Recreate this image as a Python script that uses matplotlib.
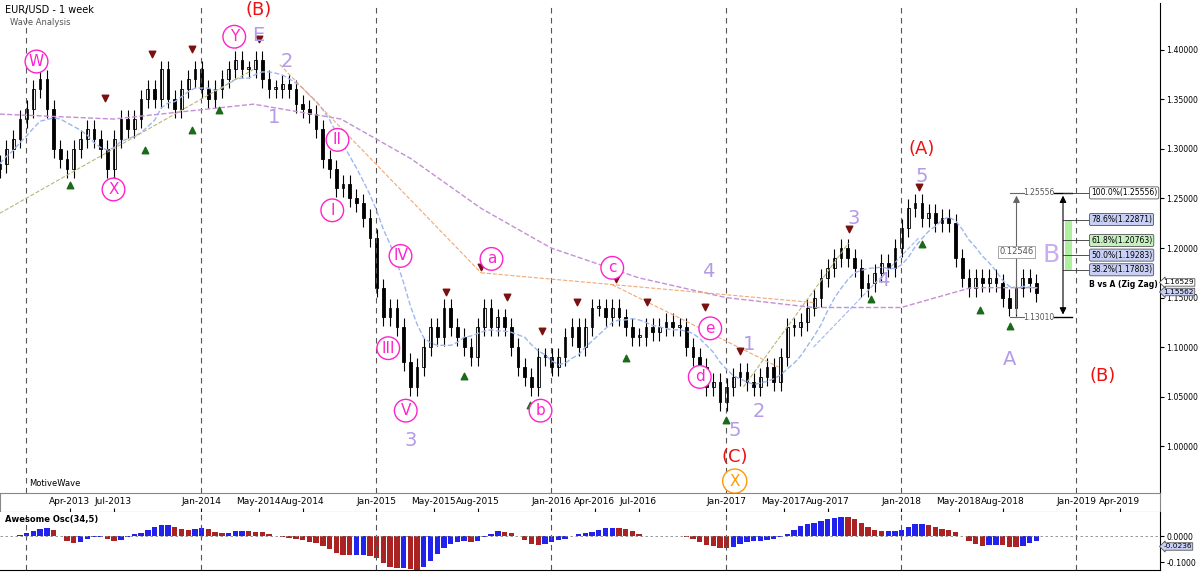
import matplotlib
matplotlib.use("Agg")
import matplotlib.pyplot as plt
import numpy as np
import pandas as pd

closes = [1.285,1.30,1.31,1.33,
 1.34,1.36,1.37,1.34,1.30,1.29,1.28,
 1.30,1.31,1.32,1.31,1.30,1.28,
 1.31,1.33,1.32,1.33,1.35,1.36,1.35,
 1.38,1.35,1.34,1.36,1.37,1.38,
 1.36,1.35,1.36,1.37,1.38,1.39,1.38,
 1.38,1.39,1.37,1.36,1.36,1.365,
 1.36,1.345,1.34,1.335,1.32,1.29,1.28,
 1.26,1.265,1.25,1.245,1.23,1.21,
 1.16,1.13,1.14,1.12,1.085,1.06,1.08,
 1.10,1.12,1.11,1.14,1.12,1.11,
 1.10,1.09,1.12,1.14,1.12,1.13,1.12,
 1.10,1.08,1.07,1.06,1.09,1.09,
 1.08,1.09,1.11,1.12,1.10,1.12,1.14,
 1.14,1.13,1.14,1.13,1.12,1.11,
 1.11,1.12,1.115,1.12,1.125,1.12,1.12,
 1.10,1.09,1.08,1.06,1.065,1.045,
 1.06,1.07,1.075,1.065,1.06,1.07,1.08,
 1.065,1.09,1.12,1.12,1.125,1.14,
 1.15,1.17,1.18,1.19,1.20,1.19,1.18,
 1.16,1.165,1.175,1.185,1.18,1.20,
 1.22,1.24,1.245,1.23,1.235,1.225,1.23,
 1.225,1.19,1.17,1.16,1.17,1.165,
 1.17,1.165,1.15,1.14,1.16,1.17,1.165,1.155]
start_year = 2012.85
step = 1/26

ma_long_x = [2012.85,2013.5,2014.3,2014.8,2015.2,2015.6,2016.0,2016.5,2017.0,2017.5,2018.0,2018.4,2018.78]
ma_long_y = [1.335,1.33,1.345,1.33,1.29,1.24,1.20,1.17,1.15,1.14,1.14,1.16,1.16]

swing_highs = [(2013.05,1.38),(2013.45,1.345),(2013.72,1.39),(2013.95,1.395),(2014.2,1.40),(2014.33,1.405),
 (2015.4,1.15),(2015.6,1.175),(2015.75,1.145),(2015.95,1.11),(2016.15,1.14),(2016.37,1.163),(2016.55,1.14),(2016.88,1.135),(2017.08,1.09),
 (2017.7,1.213),(2018.1,1.255)]
swing_lows = [(2013.25,1.27),(2013.5,1.275),(2013.68,1.305),(2013.95,1.325),(2014.1,1.345),(2015.16,1.04),(2015.5,1.077),(2015.88,1.048),
 (2016.43,1.095),(2017.0,1.033),(2017.83,1.155),(2018.12,1.21),(2018.45,1.143),(2018.62,1.127)]

labels_pink = [("W",2013.06,1.388),("X",2013.5,1.259),("Y",2014.19,1.413),("II",2014.78,1.309),("I",2014.75,1.238),
 ("IV",2015.14,1.192),("III",2015.07,1.099),("V",2015.17,1.036),("a",2015.66,1.189),("b",2015.94,1.036),
 ("c",2016.35,1.180),("d",2016.85,1.070),("e",2016.91,1.119)]
labels_lav = [("E",2014.33,1.414),("2",2014.49,1.388),("1",2014.42,1.332),("3",2015.2,1.006),("4",2016.9,1.176),
 ("1",2017.13,1.103),("2",2017.19,1.035),("5",2017.05,1.016),("3",2017.73,1.230),("4",2017.9,1.167),
 ("5",2018.12,1.272),("A",2018.62,1.088)]
labels_red = [("(B)",2014.33,1.440),("(C)",2017.05,0.989),("(A)",2018.12,1.300),("(B)",2019.15,1.071)]

fib_levels = [1.25556,1.22871,1.20763,1.19283,1.17803]
fib_names = ["100.0%","78.6%","61.8%","50.0%","38.2%"]

xt_pos = [2013.25,2013.5,2014.0,2014.33,2014.58,2015.0,2015.33,2015.58,2016.0,2016.25,2016.5,2017.0,2017.33,2017.58,2018.0,2018.33,2018.58,2019.0,2019.25]
xt_lab = ["Apr-2013","Jul-2013","Jan-2014","May-2014","Aug-2014","Jan-2015","May-2015","Aug-2015","Jan-2016","Apr-2016","Jul-2016","Jan-2017","May-2017","Aug-2017","Jan-2018","May-2018","Aug-2018","Jan-2019","Apr-2019"]

c = np.array(closes)
x = start_year + np.arange(len(c))*step
o = np.r_[c[0]-0.005, c[:-1]]
hi = np.maximum(o,c)+0.009
lo = np.minimum(o,c)-0.009

W,H = 1200,574
fig = plt.figure(figsize=(12,5.74),dpi=100)
def ax_at(l,t,r,b):
    return fig.add_axes([l/W,1-b/H,(r-l)/W,(b-t)/H])
R = 1160
ax = ax_at(0,3,R,493)
X0 = 2014 - 201/175
X1 = X0 + R/175
ax.set_xlim(X0,X1); ax.set_ylim(0.953,1.447)
for s in ["top","left","bottom"]: ax.spines[s].set_visible(False)
ax.yaxis.tick_right()
yt = [1.0,1.05,1.10,1.15,1.20,1.25,1.30,1.35,1.40]
ax.set_yticks(yt)
ax.set_yticklabels([f"{v:.5f}" for v in yt],fontsize=5.6)
ax.tick_params(axis="y",pad=1.5,length=3)
ax.set_xticks([])
for yr in [2013,2014,2015,2016,2017,2018,2019]:
    ax.axvline(yr,color="#555",ls=(0,(5,4)),lw=0.8)

ax.vlines(x,lo,hi,color="black",lw=0.8)
bw = step*0.4
for xi,oi,ci in zip(x,o,c):
    fc = "white" if ci>=oi else "black"
    ax.add_patch(plt.Rectangle((xi-bw/2,min(oi,ci)),bw,max(abs(ci-oi),0.002),fc=fc,ec="black",lw=0.6))

ax.plot(ma_long_x,ma_long_y,color="#c58fd6",ls="--",lw=1)
ma = pd.Series(c).rolling(8,min_periods=1).mean()
ax.plot(x,ma,color="#9fb6ef",ls="--",lw=1)
ax.plot([2012.85,2014.3],[1.235,1.38],color="#b8b878",ls="--",lw=0.8)
ax.plot([2014.45,2015.6],[1.385,1.175],color="#f0a878",ls="--",lw=0.8)
ax.plot([2015.6,2017.5],[1.175,1.145],color="#f0a878",ls="--",lw=0.8)
ax.plot([2016.35,2017.3],[1.163,1.08],color="#f0a878",ls="--",lw=0.8)
ax.plot([2017.1,2017.7],[1.06,1.205],color="#b8b878",ls="--",lw=0.8)
ax.plot([2017.5,2018.1],[1.10,1.21],color="#9fb6ef",ls="--",lw=0.8)

ax.scatter([p[0] for p in swing_highs],[p[1]+0.006 for p in swing_highs],marker="v",color="#7a1010",s=22,zorder=5)
ax.scatter([p[0] for p in swing_lows],[p[1]-0.006 for p in swing_lows],marker="^",color="#1a6a1a",s=22,zorder=5)

for t,xx,yy in labels_pink:
    ax.text(xx,yy,t,color="#ff22cc",fontsize=11,ha="center",va="center",
            bbox=dict(boxstyle="circle,pad=0.25",fc="white",ec="#ff22cc",lw=1),zorder=6)
ax.text(2017.05,0.965,"X",color="#ff9900",fontsize=11,ha="center",va="center",
        bbox=dict(boxstyle="circle,pad=0.3",fc="white",ec="#ff9900",lw=1),zorder=6)
for t,xx,yy in labels_lav:
    ax.text(xx,yy,t,color="#b49be8",fontsize=14,ha="center",va="center",zorder=6)
for t,xx,yy in labels_red:
    ax.text(xx,yy,t,color="#ee1111",fontsize=13,ha="center",va="center",zorder=6)

mx = 2018.66
ax.annotate("",xy=(mx,1.2556),xytext=(mx,1.1301),arrowprops=dict(arrowstyle="-|>",color="#666",lw=0.8))
ax.plot([mx-0.04,mx+0.04],[1.2556]*2,color="#666",lw=0.8)
ax.plot([mx-0.04,mx+0.04],[1.1301]*2,color="#666",lw=0.8)
ax.text(mx+0.04,1.2556,"1.25556",fontsize=5.5,color="#555",va="center")
ax.text(mx+0.04,1.1301,"1.13010",fontsize=5.5,color="#555",va="center")
ax.text(mx,1.196,"0.12546",fontsize=6,color="#555",ha="center",va="center",bbox=dict(boxstyle="square,pad=0.2",fc="white",ec="#999",lw=0.6))
fx = 2019.0-(1076-1063)/175
ax.annotate("",xy=(fx,1.2556),xytext=(fx,1.1301),arrowprops=dict(arrowstyle="<|-|>",color="black",lw=0.8))
ax.plot([fx-0.05,fx+0.05],[1.2556]*2,color="black",lw=1)
ax.plot([fx-0.05,fx+0.05],[1.1301]*2,color="black",lw=1)
ax.add_patch(plt.Rectangle((fx+0.01,1.17803),0.04,1.22871-1.17803,fc="#aef0a0",ec="none"))
ax.text(fx-0.07,1.193,"B",color="#c8aef0",fontsize=18,ha="center",va="center")
for lv,nm in zip(fib_levels,fib_names):
    ax.plot([fx,fx+0.15],[lv,lv],color="#333",lw=0.6)
    fc = "white" if nm=="100.0%" else ("#c6f0c0" if nm=="61.8%" else "#c8cff5")
    ax.text(fx+0.16,lv,f"{nm}({lv:.5f})",fontsize=5.5,va="center",bbox=dict(boxstyle="round,pad=0.2",fc=fc,ec="#555",lw=0.6))
ax.text(fx+0.15,1.163,"B vs A (Zig Zag)",fontsize=5.5,va="center",fontweight="bold")
for v,fc in [(1.16529,"white"),(1.15562,"#c8cff5")]:
    ax.text(1.003,v,f"{v:.5f}",transform=ax.get_yaxis_transform(),fontsize=5.3,va="center",
            bbox=dict(boxstyle="larrow,pad=0.1",fc=fc,ec="#555",lw=0.6))
ax.text(0.004,0.995,"EUR/USD - 1 week",transform=ax.transAxes,fontsize=7,va="top")
ax.text(0.009,0.97,"Wave Analysis",transform=ax.transAxes,fontsize=6,va="top",color="#555")
ax.text(0.025,0.01,"MotiveWave",transform=ax.transAxes,fontsize=6,va="bottom")

axd = ax_at(0,493,R,512)
axd.set_xlim(X0,X1); axd.set_ylim(0,1)
axd.set_yticks([])
axd.set_xticks(xt_pos); axd.set_xticklabels(xt_lab,fontsize=6.5)
axd.tick_params(axis="x",direction="in",pad=-11,length=3)
for s in axd.spines.values(): s.set_color("#888")

axo = ax_at(0,512,R,570)
axo.set_xlim(X0,X1); axo.set_ylim(-0.13,0.092)
axo.yaxis.tick_right()
axo.set_yticks([0,-0.1]); axo.set_yticklabels(["0.0000","-0.1000"],fontsize=5.6)
axo.tick_params(axis="y",pad=1.5,length=3)
axo.set_xticks([])
for s in ["top","left"]: axo.spines[s].set_visible(False)
for yr in [2013,2014,2015,2016,2017,2018,2019]:
    axo.axvline(yr,color="#555",ls=(0,(5,4)),lw=0.8)
med = pd.Series((hi+lo)/2)
ao = (med.rolling(3,min_periods=1).mean()-med.rolling(17,min_periods=1).mean()).values
cols = ["#2222ee" if i==0 or ao[i]>=ao[i-1] else "#aa2222" for i in range(len(ao))]
axo.bar(x,ao,width=step*0.8,color=cols)
axo.axhline(0,color="#888",ls=(0,(3,3)),lw=0.6)
axo.text(1.003,-0.04,"-0.0236",transform=axo.get_yaxis_transform(),fontsize=5.3,va="center",
         bbox=dict(boxstyle="larrow,pad=0.1",fc="#c8cff5",ec="#555",lw=0.6))
axo.text(0.004,0.95,"Awesome Osc(34,5)",transform=axo.transAxes,fontsize=6,va="top",fontweight="bold")
fig.savefig("out.png",dpi=100)
